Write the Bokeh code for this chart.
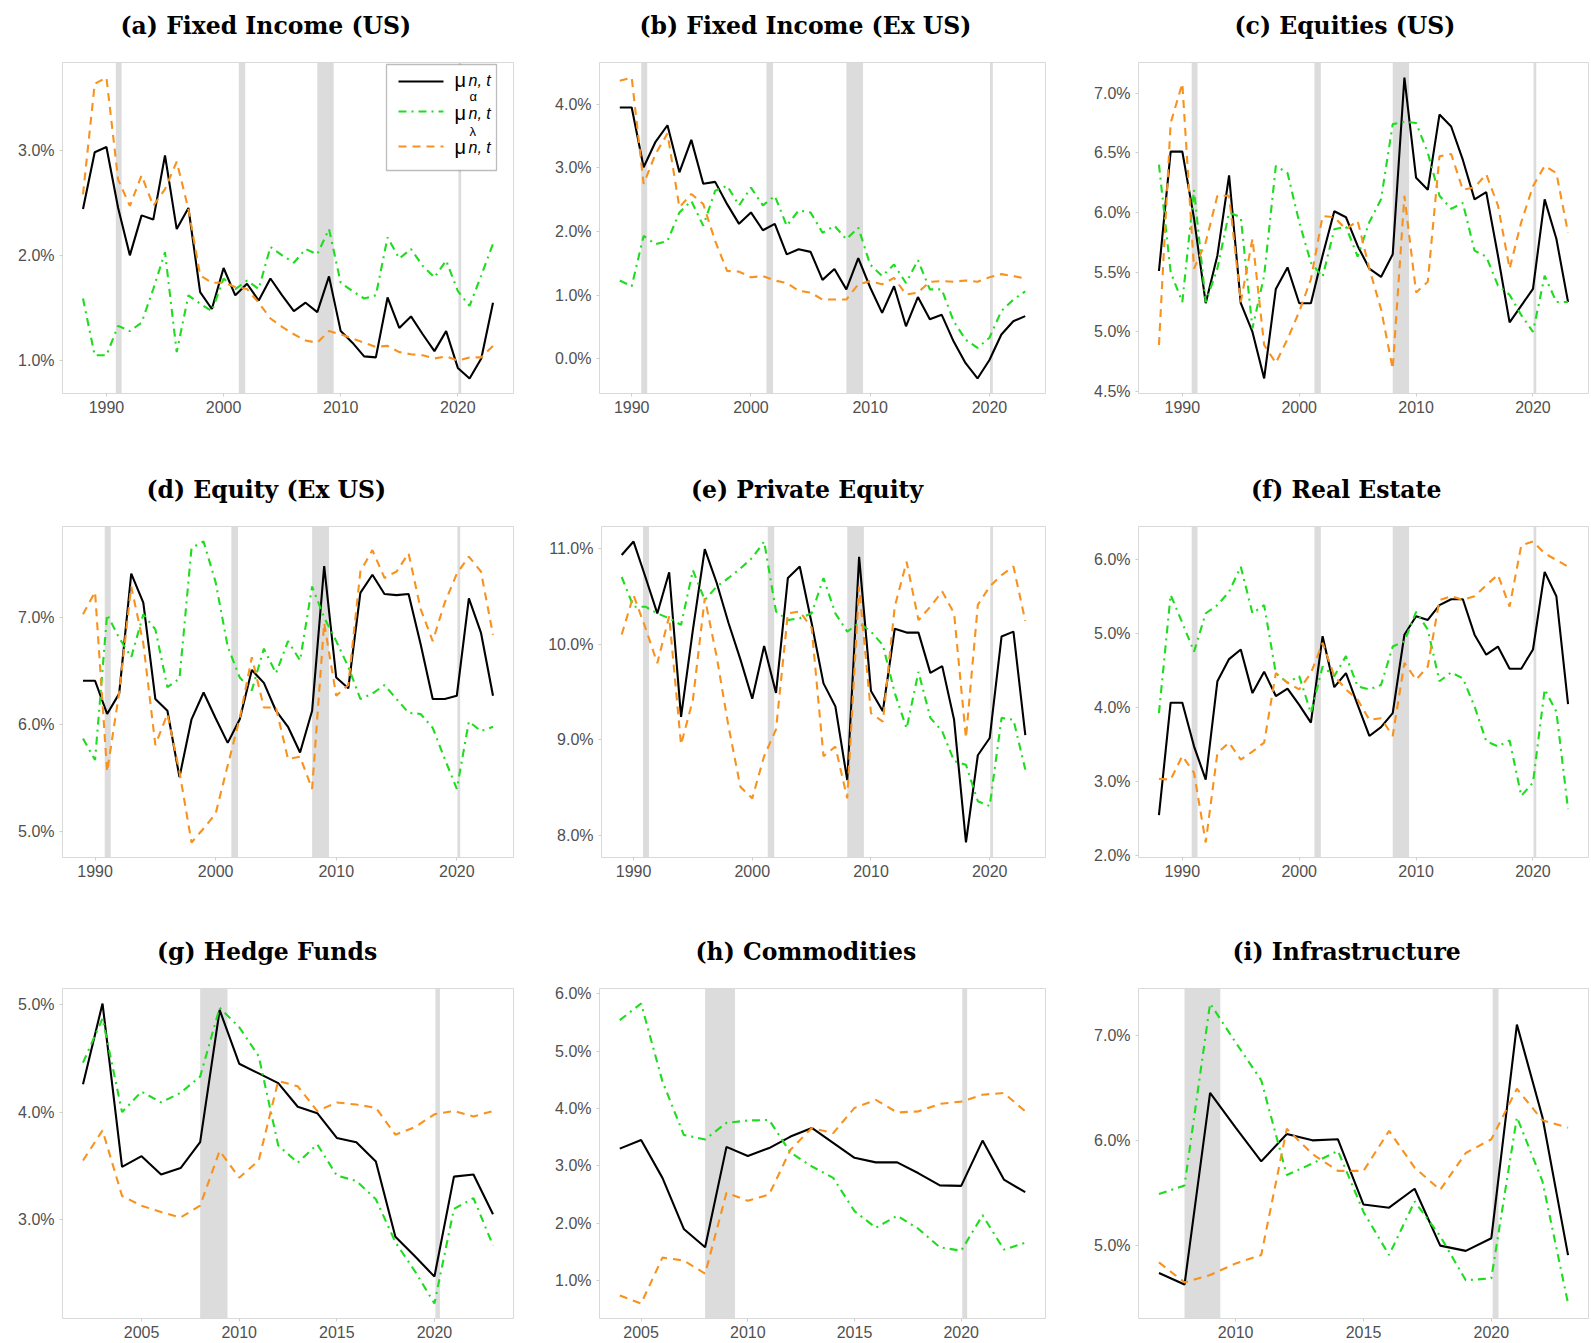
from bokeh.plotting import figure
from bokeh.layouts import column, row
from bokeh.models import (BoxAnnotation, Label, Arrow, FixedTicker, Title,
                          PrintfTickFormatter, Range1d, ColumnDataSource)
from bokeh.embed import file_html
from bokeh.resources import INLINE

# ---------------- data ----------------
recessions = [(1990.8, 1991.3), (2001.3, 2001.85), (2008.0, 2009.4), (2020.05, 2020.28)]

titles = ["(a) Fixed Income (US)", "(b) Fixed Income (Ex US)", "(c) Equities (US)",
          "(d) Equity (Ex US)", "(e) Private Equity", "(f) Real Estate",
          "(g) Hedge Funds", "(h) Commodities", "(i) Infrastructure"]

years_a = list(range(1988, 2024))
mu_a = [2.44, 2.98, 3.03, 2.45, 2.00, 2.38, 2.34, 2.95, 2.25, 2.45, 1.65, 1.49, 1.88, 1.62, 1.73, 1.57, 1.78, 1.62,
        1.47, 1.55, 1.46, 1.80, 1.28, 1.17, 1.04, 1.03, 1.60, 1.31, 1.42, 1.25, 1.09, 1.28, 0.93, 0.83, 1.02, 1.55]
alpha_a = [1.59, 1.05, 1.05, 1.33, 1.28, 1.36, 1.68, 2.03, 1.08, 1.62, 1.54, 1.47, 1.78, 1.68, 1.76, 1.68, 2.08, 2.00,
           1.93, 2.06, 2.01, 2.25, 1.74, 1.66, 1.59, 1.62, 2.17, 1.97, 2.06, 1.90, 1.79, 1.95, 1.66, 1.52, 1.81, 2.11]
lambda_a = [2.58, 3.63, 3.69, 2.72, 2.47, 2.76, 2.47, 2.63, 2.89, 2.44, 1.81, 1.74, 1.74, 1.70, 1.68, 1.55, 1.40, 1.32,
            1.25, 1.19, 1.17, 1.28, 1.25, 1.21, 1.17, 1.13, 1.14, 1.08, 1.06, 1.05, 1.02, 1.04, 1.00, 1.03, 1.03, 1.14]

years_b = list(range(1989, 2024))
mu_b = [3.95, 3.95, 3.01, 3.41, 3.67, 2.93, 3.44, 2.75, 2.78, 2.43, 2.12, 2.30, 2.02, 2.12, 1.64, 1.72, 1.68, 1.24,
        1.41, 1.09, 1.58, 1.12, 0.72, 1.14, 0.51, 0.97, 0.62, 0.69, 0.27, -0.07, -0.31, -0.02, 0.38, 0.59, 0.67]
alpha_b = [1.23, 1.14, 1.93, 1.80, 1.85, 2.30, 2.48, 2.09, 2.64, 2.72, 2.41, 2.69, 2.41, 2.56, 2.09, 2.33, 2.30, 1.98,
           2.09, 1.88, 2.06, 1.48, 1.30, 1.48, 1.19, 1.55, 1.09, 1.09, 0.59, 0.30, 0.17, 0.33, 0.75, 0.93, 1.06]
lambda_b = [4.37, 4.42, 2.75, 3.22, 3.54, 2.38, 2.59, 2.43, 1.85, 1.38, 1.37, 1.28, 1.30, 1.23, 1.19, 1.07, 1.04, 0.93,
            0.93, 0.93, 1.17, 1.22, 1.17, 1.27, 1.01, 1.04, 1.21, 1.22, 1.21, 1.23, 1.21, 1.28, 1.33, 1.30, 1.26]

years_c = list(range(1988, 2024))
mu_c = [5.51, 6.51, 6.51, 5.95, 5.24, 5.64, 6.31, 5.24, 5.00, 4.61, 5.36, 5.54, 5.24, 5.24, 5.64, 6.01, 5.96, 5.72,
        5.53, 5.46, 5.65, 7.13, 6.29, 6.19, 6.82, 6.72, 6.44, 6.11, 6.17, 5.64, 5.08, 5.22, 5.36, 6.11, 5.78, 5.25]
alpha_c = [6.40, 5.50, 5.25, 6.19, 5.25, 5.53, 6.00, 5.96, 5.03, 5.47, 6.39, 6.33, 5.92, 5.58, 5.46, 5.86, 5.88, 5.63,
           5.92, 6.11, 6.74, 6.76, 6.75, 6.50, 6.14, 6.03, 6.08, 5.68, 5.63, 5.39, 5.31, 5.14, 5.00, 5.47, 5.25, 5.25]
lambda_c = [4.89, 6.75, 7.08, 5.53, 5.75, 6.14, 6.14, 5.25, 5.78, 4.89, 4.74, 4.94, 5.17, 5.44, 5.97, 5.96, 5.86, 5.93,
            5.53, 5.19, 4.69, 6.14, 5.33, 5.42, 6.47, 6.49, 6.19, 6.21, 6.32, 6.06, 5.53, 5.92, 6.22, 6.39, 6.33, 5.83]

years_d = list(range(1989, 2024))
mu_d = [6.41, 6.41, 6.10, 6.29, 7.41, 7.14, 6.24, 6.13, 5.51, 6.05, 6.30, 6.06, 5.83, 6.05, 6.51, 6.39, 6.13, 5.98,
        5.74, 6.13, 7.48, 6.44, 6.34, 7.23, 7.40, 7.22, 7.21, 7.22, 6.75, 6.24, 6.24, 6.27, 7.18, 6.86, 6.27]
alpha_d = [5.87, 5.67, 7.03, 6.81, 6.63, 7.03, 6.89, 6.35, 6.43, 7.65, 7.71, 7.33, 6.73, 6.44, 6.32, 6.71, 6.48, 6.78,
           6.60, 7.29, 7.00, 6.78, 6.54, 6.24, 6.29, 6.37, 6.24, 6.11, 6.10, 5.97, 5.68, 5.40, 6.03, 5.94, 5.98]
lambda_d = [7.03, 7.24, 5.56, 6.30, 7.29, 6.76, 5.81, 6.10, 5.56, 4.90, 5.03, 5.17, 5.62, 6.06, 6.63, 6.16, 6.16, 5.68,
            5.70, 5.40, 6.95, 6.27, 6.37, 7.43, 7.63, 7.37, 7.43, 7.60, 7.08, 6.78, 7.14, 7.41, 7.57, 7.43, 6.84]

years_e = list(range(1989, 2024))
mu_e = [10.93, 11.07, 10.70, 10.32, 10.75, 9.24, 10.15, 10.99, 10.64, 10.22, 9.84, 9.43, 9.98, 9.49, 10.69, 10.81,
        10.22, 9.59, 9.35, 8.58, 10.91, 9.51, 9.30, 10.16, 10.12, 10.12, 9.70, 9.77, 9.21, 7.93, 8.84, 9.02, 10.08,
        10.13, 9.05]
alpha_e = [10.70, 10.39, 10.39, 10.32, 10.27, 10.20, 10.77, 10.46, 10.60, 10.69, 10.79, 10.90, 11.07, 10.34, 10.25,
           10.27, 10.32, 10.69, 10.32, 10.13, 10.22, 10.13, 9.99, 9.49, 9.12, 9.71, 9.23, 9.09, 8.78, 8.74, 8.36,
           8.31, 9.23, 9.21, 8.69]
lambda_e = [10.10, 10.51, 10.17, 9.80, 10.29, 8.95, 9.42, 10.48, 9.87, 9.14, 8.51, 8.39, 8.83, 9.11, 10.32, 10.34,
            10.17, 8.83, 8.93, 8.39, 10.60, 9.28, 9.19, 10.39, 10.86, 10.25, 10.39, 10.55, 10.32, 9.02, 10.41, 10.60,
            10.72, 10.81, 10.24]

years_f = list(range(1988, 2024))
mu_f = [2.54, 4.06, 4.06, 3.47, 3.02, 4.35, 4.65, 4.78, 4.19, 4.48, 4.15, 4.25, 4.03, 3.79, 4.96, 4.27, 4.46, 4.03,
        3.61, 3.73, 3.92, 4.98, 5.23, 5.18, 5.38, 5.46, 5.46, 4.98, 4.71, 4.82, 4.52, 4.52, 4.78, 5.83, 5.50, 4.04]
alpha_f = [3.92, 5.52, 5.14, 4.75, 5.27, 5.38, 5.56, 5.90, 5.27, 5.38, 4.46, 4.33, 4.42, 3.92, 4.55, 4.42, 4.69, 4.28,
           4.24, 4.30, 4.82, 4.89, 5.29, 5.05, 4.35, 4.47, 4.39, 4.01, 3.54, 3.47, 3.55, 2.80, 2.98, 4.24, 3.94, 2.62]
lambda_f = [3.03, 3.02, 3.34, 3.11, 2.17, 3.38, 3.52, 3.29, 3.40, 3.52, 4.46, 4.33, 4.24, 4.46, 4.87, 4.42, 4.24, 4.10,
            3.83, 3.85, 3.61, 4.60, 4.37, 4.55, 5.45, 5.50, 5.45, 5.50, 5.65, 5.79, 5.36, 6.19, 6.24, 6.08, 5.99, 5.90]

years_g = list(range(2002, 2024))
mu_g = [4.26, 5.01, 3.49, 3.59, 3.42, 3.48, 3.72, 4.95, 4.45, 4.36, 4.27, 4.05, 3.99, 3.76, 3.72, 3.54, 2.84, 2.66,
        2.47, 3.40, 3.42, 3.05]
alpha_g = [4.46, 4.87, 4.00, 4.19, 4.09, 4.18, 4.33, 4.97, 4.79, 4.52, 3.69, 3.53, 3.70, 3.41, 3.36, 3.19, 2.79, 2.52,
           2.22, 3.10, 3.20, 2.76]
lambda_g = [3.55, 3.83, 3.22, 3.13, 3.07, 3.02, 3.13, 3.64, 3.39, 3.55, 4.29, 4.24, 4.01, 4.09, 4.07, 4.04, 3.79, 3.86,
            3.98, 4.01, 3.96, 4.01]

years_h = list(range(2004, 2024))
mu_h = [3.30, 3.45, 2.79, 1.90, 1.58, 3.33, 3.17, 3.31, 3.51, 3.66, 3.40, 3.14, 3.06, 3.06, 2.87, 2.66, 2.65, 3.44,
        2.76, 2.54]
alpha_h = [5.54, 5.83, 4.47, 3.54, 3.46, 3.75, 3.79, 3.80, 3.23, 2.99, 2.79, 2.21, 1.92, 2.13, 1.90, 1.58, 1.52, 2.14,
           1.54, 1.66]
lambda_h = [0.74, 0.60, 1.40, 1.35, 1.12, 2.53, 2.39, 2.50, 3.28, 3.66, 3.57, 4.01, 4.15, 3.93, 3.95, 4.08, 4.12, 4.24,
            4.27, 3.95]

years_i = list(range(2007, 2024))
mu_i = [4.74, 4.63, 6.45, 6.12, 5.80, 6.06, 6.00, 6.01, 5.39, 5.36, 5.54, 5.00, 4.95, 5.07, 7.10, 6.22, 4.91]
alpha_i = [5.49, 5.57, 7.30, 6.93, 6.57, 5.67, 5.78, 5.90, 5.32, 4.91, 5.42, 5.09, 4.67, 4.69, 6.22, 5.61, 4.45]
lambda_i = [4.84, 4.65, 4.72, 4.83, 4.91, 6.11, 5.87, 5.71, 5.71, 6.09, 5.74, 5.53, 5.88, 6.01, 6.49, 6.19, 6.12]

yticks_a = [1.0, 2.0, 3.0]
yticks_b = [0.0, 1.0, 2.0, 3.0, 4.0]
yticks_c = [4.5, 5.0, 5.5, 6.0, 6.5, 7.0]
yticks_d = [5.0, 6.0, 7.0]
yticks_e = [8.0, 9.0, 10.0, 11.0]
yticks_f = [2.0, 3.0, 4.0, 5.0, 6.0]
yticks_g = [3.0, 4.0, 5.0]
yticks_h = [1.0, 2.0, 3.0, 4.0, 5.0, 6.0]
yticks_i = [5.0, 6.0, 7.0]
xticks_long = [1990, 2000, 2010, 2020]
xticks_gh = [2005, 2010, 2015, 2020]
xticks_i = [2010, 2015, 2020]

legend_labels = ["\u03bc", "\u03bc", "\u03bc"]
legend_sub = ["n, t", "n, t", "n, t"]
legend_sup = ["", "\u03b1", "\u03bb"]

# ---------------- styles / layout ----------------
BLACK = "#000000"
GREEN = "#1EDC1E"
ORANGE = "#F8921E"
SHADE = "#DCDCDC"
TICK_FONT = "Liberation Sans"
TITLE_FONT = "DejaVu Serif"

col_w = [545, 538, 508]
col_bl = [62, 54, 55]
col_br = [32, 38, 3]
row_h = [470, 462, 410]
row_bt = [62, 56, 56]
row_bb = [77, 75, 24]
title_w = [289, 330, 220, 237, 231, 189, 218, 218, 226]       # approx rendered widths (px)
title_shift = [-23, -18, -19, -23, -18, -18, -22, -18, -18]   # title centre vs frame centre

panels = [
    (years_a, mu_a, alpha_a, lambda_a, yticks_a, xticks_long),
    (years_b, mu_b, alpha_b, lambda_b, yticks_b, xticks_long),
    (years_c, mu_c, alpha_c, lambda_c, yticks_c, xticks_long),
    (years_d, mu_d, alpha_d, lambda_d, yticks_d, xticks_long),
    (years_e, mu_e, alpha_e, lambda_e, yticks_e, xticks_long),
    (years_f, mu_f, alpha_f, lambda_f, yticks_f, xticks_long),
    (years_g, mu_g, alpha_g, lambda_g, yticks_g, xticks_gh),
    (years_h, mu_h, alpha_h, lambda_h, yticks_h, xticks_gh),
    (years_i, mu_i, alpha_i, lambda_i, yticks_i, xticks_i),
]


def expand(lo, hi, f=0.05):
    s = hi - lo
    return lo - f * s, hi + f * s


def make_panel(k):
    yrs, mu, al, la, yt, xt = panels[k]
    r, c = divmod(k, 3)
    x0, x1 = expand(min(yrs), max(yrs))
    allv = mu + al + la
    y0, y1 = expand(min(allv), max(allv))
    p = figure(width=col_w[c], height=row_h[r], output_backend="svg", toolbar_location=None,
               title=None,
               x_range=Range1d(x0, x1), y_range=Range1d(y0, y1),
               min_border_left=col_bl[c], min_border_right=col_br[c],
               min_border_top=row_bt[r], min_border_bottom=row_bb[r],
               background_fill_color="white", border_fill_color="white")
    # spacer between the frame and the title (first "above" item sits closest to the frame)
    p.add_layout(Title(text=" ", text_font=TITLE_FONT, text_font_size="18.5px", standoff=0), "above")
    frame_w = col_w[c] - col_bl[c] - col_br[c]
    off = frame_w / 2.0 + title_shift[k] - title_w[k] / 2.0
    p.add_layout(Title(text=titles[k], text_font=TITLE_FONT, text_font_style="bold",
                       text_font_size="23.5px", text_color="black", align="left", offset=off,
                       standoff=0), "above")
    p.outline_line_color = "#D9D9D9"
    p.outline_line_width = 1
    p.grid.visible = False
    for ax in (p.xaxis[0], p.yaxis[0]):
        ax.axis_line_color = None
        ax.major_tick_line_color = "#CFCFCF"
        ax.major_tick_out = 3
        ax.major_tick_in = 0
        ax.minor_tick_line_color = None
        ax.major_label_text_font = TICK_FONT
        ax.major_label_text_font_size = "16px"
        ax.major_label_text_color = "#505050"
    p.xaxis.ticker = FixedTicker(ticks=xt)
    p.yaxis.ticker = FixedTicker(ticks=yt)
    p.yaxis.formatter = PrintfTickFormatter(format="%.1f%%")
    p.xaxis.major_label_standoff = 4
    p.yaxis.major_label_standoff = 5

    for (a, b) in recessions:
        if a >= min(yrs) and a < x1:
            p.add_layout(BoxAnnotation(left=a, right=b, fill_color=SHADE, fill_alpha=1.0,
                                       line_color=None, level="underlay"))

    src = ColumnDataSource(dict(year=yrs, mu=mu, alpha=al, lam=la))
    p.line("year", "mu", source=src, line_color=BLACK, line_width=2.1)
    p.line("year", "alpha", source=src, line_color=GREEN, line_width=2.1, line_dash="8 5 2 5")
    p.line("year", "lam", source=src, line_color=ORANGE, line_width=2.1, line_dash="8 6")
    return p


def add_legend(p):
    # box, samples and labels positioned in screen units relative to the plot frame
    p.add_layout(BoxAnnotation(left=324, right=434, bottom=223, top=329,
                               left_units="screen", right_units="screen",
                               bottom_units="screen", top_units="screen",
                               fill_color="white", fill_alpha=1.0,
                               line_color="#222222", line_width=1.3, level="overlay"))
    rows_y = [312, 282, 247]
    styles = [(BLACK, "solid"), (GREEN, "8 5 2 5"), (ORANGE, "8 6")]
    mu_base = [314, 281, 247]
    sup_base = [0, 297, 262]
    for i, yy in enumerate(rows_y):
        col, dash = styles[i]
        p.add_layout(Arrow(x_start=336, y_start=yy, x_end=381, y_end=yy,
                           start_units="screen", end_units="screen", start=None, end=None,
                           line_color=col, line_width=2.1, line_dash=dash, level="overlay"))
        p.add_layout(Label(x=392, y=mu_base[i], x_units="screen", y_units="screen",
                           text=legend_labels[i], text_font=TICK_FONT, text_font_size="20px",
                           text_color="black", text_baseline="alphabetic", level="overlay"))
        p.add_layout(Label(x=406, y=mu_base[i] - 1, x_units="screen", y_units="screen",
                           text=legend_sub[i], text_font=TICK_FONT, text_font_size="16px",
                           text_font_style="italic", text_color="black",
                           text_baseline="alphabetic", level="overlay"))
        if legend_sup[i]:
            p.add_layout(Label(x=407, y=sup_base[i], x_units="screen", y_units="screen",
                               text=legend_sup[i], text_font=TICK_FONT, text_font_size="13px",
                               text_color="black", text_baseline="alphabetic", level="overlay"))


figs = [make_panel(k) for k in range(9)]
add_legend(figs[0])

layout = column(row(*figs[0:3]), row(*figs[3:6]), row(*figs[6:9]))

with open("out.html", "w") as fh:
    fh.write(file_html(layout, INLINE))
